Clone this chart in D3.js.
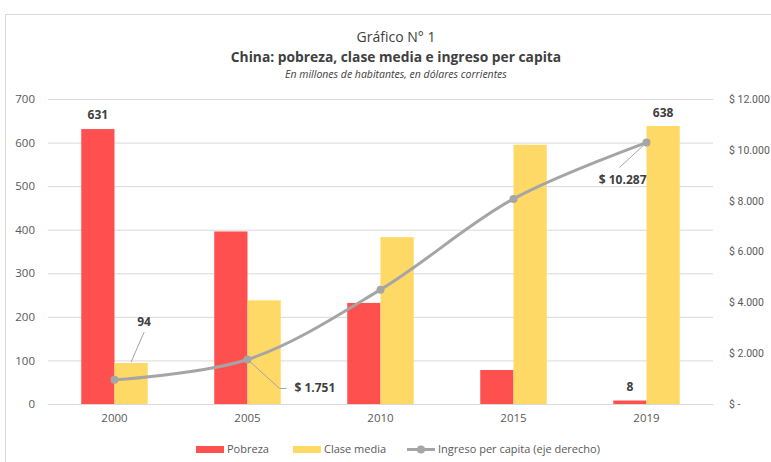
<!DOCTYPE html>
<html>
<head>
<meta charset="utf-8">
<script src="https://cdn.jsdelivr.net/npm/d3@7"></script>
<style>
  body { margin: 0; background: #fff; }
  text { font-family: "Open Sans", "Noto Sans", sans-serif; }
</style>
</head>
<body>
<svg width="771" height="462"></svg>
<script>
var years = ["2000", "2005", "2010", "2015", "2019"];
var pobreza = [631, 396, 232, 78, 8];
var claseMedia = [94, 238, 383, 595, 638];
var ingreso = [950, 1751, 4500, 8070, 10287];
var leftTicks = [0, 100, 200, 300, 400, 500, 600, 700];
var rightTicks = [0, 2000, 4000, 6000, 8000, 10000, 12000];

var svg = d3.select("svg"),
    width = +svg.attr("width"),
    height = +svg.attr("height");

var margin = {top: 99, right: 58, bottom: 58, left: 48};

// marco del gráfico
svg.append("rect")
    .attr("x", 5.5).attr("y", 14.5)
    .attr("width", 800).attr("height", 500)
    .attr("fill", "none")
    .attr("stroke", "#d9d9d9");

svg.append("text")
    .attr("x", 396).attr("y", 42)
    .attr("text-anchor", "middle")
    .style("font-size", "14px")
    .attr("fill", "#404040")
    .text("Gráfico N° 1");

svg.append("text")
    .attr("x", 396).attr("y", 62)
    .attr("text-anchor", "middle")
    .style("font-size", "13.8px")
    .style("font-weight", "bold")
    .attr("fill", "#404040")
    .text("China: pobreza, clase media e ingreso per capita");

svg.append("text")
    .attr("x", 396).attr("y", 78)
    .attr("text-anchor", "middle")
    .style("font-size", "10.5px")
    .style("font-style", "italic")
    .attr("fill", "#404040")
    .text("En millones de habitantes, en dólares corrientes");

var x = d3.scaleBand()
    .domain(years)
    .range([margin.left, width - margin.right])
    .paddingInner(0.5)
    .paddingOuter(0.25);

var xc = function(d) { return x(d) + x.bandwidth() / 2; };

var y = d3.scaleLinear()
    .domain([0, 700])
    .range([height - margin.bottom, margin.top]);

var y2 = d3.scaleLinear()
    .domain([0, 12000])
    .range([height - margin.bottom, margin.top]);

// gridlines
svg.append("g")
    .attr("transform", "translate(" + margin.left + ",0)")
    .call(d3.axisLeft(y).tickValues(leftTicks)
        .tickSize(-(width - margin.left - margin.right))
        .tickFormat(""))
    .call(function(g) { g.select(".domain").remove(); })
    .selectAll("line")
      .attr("stroke", "#d9d9d9");

// left axis labels
svg.append("g")
    .attr("transform", "translate(" + (margin.left - 10) + ",0)")
    .call(d3.axisLeft(y).tickValues(leftTicks).tickSize(0))
    .call(function(g) { g.select(".domain").remove(); })
    .selectAll("text")
      .attr("fill", "#595959")
      .style("font-size", "11.5px");

// right axis labels
svg.append("g")
    .attr("transform", "translate(" + (width - margin.right + 13) + ",0)")
    .call(d3.axisRight(y2).tickValues(rightTicks).tickSize(0)
        .tickFormat(function(d) { return d == 0 ? "$ -" : "$ " + d3.format(",")(d).replace(/,/g, "."); }))
    .call(function(g) { g.select(".domain").remove(); })
    .selectAll("text")
      .attr("fill", "#595959")
      .style("font-family", "Roboto, sans-serif")
      .style("font-size", "10.5px");

// x axis
svg.append("g")
    .attr("transform", "translate(0," + (height - margin.bottom) + ")")
    .call(d3.axisBottom(x).tickSize(0).tickPadding(10))
    .call(function(g) { g.select(".domain").attr("stroke", "#d9d9d9"); })
    .selectAll("text")
      .attr("fill", "#595959")
      .style("font-size", "11.5px");

var bw = x.bandwidth() / 2;

svg.append("g").selectAll("rect")
    .data(years)
    .enter().append("rect")
      .attr("x", function(d) { return x(d); })
      .attr("y", function(d, i) { return y(pobreza[i]); })
      .attr("width", bw)
      .attr("height", function(d, i) { return y(0) - y(pobreza[i]); })
      .attr("fill", "#ff5050");

svg.append("g").selectAll("rect")
    .data(years)
    .enter().append("rect")
      .attr("x", function(d) { return x(d) + bw; })
      .attr("y", function(d, i) { return y(claseMedia[i]); })
      .attr("width", bw)
      .attr("height", function(d, i) { return y(0) - y(claseMedia[i]); })
      .attr("fill", "#ffd966");

// linea de ingreso
var line = d3.line()
    .x(function(d, i) { return xc(years[i]); })
    .y(function(d) { return y2(d); })
    .curve(d3.curveCatmullRom.alpha(0.5));

svg.append("path")
    .datum(ingreso)
    .attr("d", line)
    .attr("fill", "none")
    .attr("stroke", "#a5a5a5")
    .attr("stroke-width", 3);

svg.append("g").selectAll("circle")
    .data(ingreso)
    .enter().append("circle")
      .attr("cx", function(d, i) { return xc(years[i]); })
      .attr("cy", function(d) { return y2(d); })
      .attr("r", 4)
      .attr("fill", "#a5a5a5");

// etiquetas de datos
var lbl = svg.append("g")
    .style("font-size", "12px")
    .style("font-weight", "bold")
    .attr("fill", "#404040");

lbl.append("text")
    .attr("x", x("2000") + bw / 2).attr("y", y(pobreza[0]) - 10)
    .attr("text-anchor", "middle").text(pobreza[0]);

lbl.append("text")
    .attr("x", x("2019") + bw / 2).attr("y", y(pobreza[4]) - 10)
    .attr("text-anchor", "middle").text(pobreza[4]);

lbl.append("text")
    .attr("x", x("2019") + bw * 1.5).attr("y", y(claseMedia[4]) - 9)
    .attr("text-anchor", "middle").text(claseMedia[4]);

lbl.append("text")
    .attr("x", x("2000") + bw * 1.5 + 13).attr("y", y(claseMedia[0]) - 37)
    .attr("text-anchor", "middle").text(claseMedia[0]);

svg.append("line")
    .attr("x1", x("2000") + bw * 1.5 + 13).attr("y1", y(claseMedia[0]) - 31)
    .attr("x2", x("2000") + bw * 1.5).attr("y2", y(claseMedia[0]) - 1)
    .attr("stroke", "#a5a5a5");

// $ 1.751
var p1x = xc("2005"), p1y = y2(ingreso[1]);
svg.append("polyline")
    .attr("points", [[p1x, p1y], [p1x + 32, p1y + 29], [p1x + 39, p1y + 29]].join(" "))
    .attr("fill", "none")
    .attr("stroke", "#a5a5a5");
lbl.append("text")
    .attr("x", p1x + 47).attr("y", p1y + 33)
    .text("$ 1.751");

// $ 10.287
var p2x = xc("2019"), p2y = y2(ingreso[4]);
svg.append("line")
    .attr("x1", p2x).attr("y1", p2y)
    .attr("x2", p2x - 27).attr("y2", p2y + 25)
    .attr("stroke", "#a5a5a5");
lbl.append("text")
    .attr("x", p2x).attr("y", p2y + 41)
    .attr("text-anchor", "end")
    .text("$ 10.287");

// leyenda
var legend = svg.append("g")
    .style("font-size", "11px")
    .attr("fill", "#595959");

legend.append("rect").attr("x", 196).attr("y", 446).attr("width", 28).attr("height", 7).attr("fill", "#ff5050");
legend.append("text").attr("x", 227).attr("y", 453).text("Pobreza");
legend.append("rect").attr("x", 293).attr("y", 446).attr("width", 28).attr("height", 7).attr("fill", "#ffd966");
legend.append("text").attr("x", 324).attr("y", 453).text("Clase media");
legend.append("line").attr("x1", 407).attr("x2", 435).attr("y1", 449.5).attr("y2", 449.5)
    .attr("stroke", "#a5a5a5").attr("stroke-width", 3);
legend.append("circle").attr("cx", 421).attr("cy", 449.5).attr("r", 4).attr("fill", "#a5a5a5");
legend.append("text").attr("x", 438).attr("y", 453).text("Ingreso per capita (eje derecho)");
</script>
</body>
</html>
